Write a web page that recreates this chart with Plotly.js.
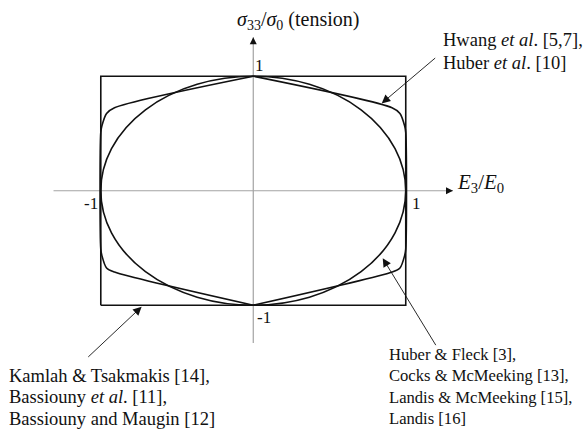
<!DOCTYPE html>
<html>
<head>
<meta charset="utf-8">
<script src="https://cdn.plot.ly/plotly-3.0.1.min.js"></script>
<style>
  html, body { margin: 0; padding: 0; background: #fff; }
  #plot { width: 584px; height: 434px; }
</style>
</head>
<body>
<div id="plot"></div>
<script>
// Switching surface in normalised (E3/E0, sigma33/sigma0) space.

// Square surface: Kamlah & Tsakmakis, Bassiouny et al., Bassiouny and Maugin
const boxX = [-1, 1, 1, -1, -1];
const boxY = [-1, -1, 1, 1, -1];

// Elliptical surface: Huber & Fleck, Cocks & McMeeking, Landis & McMeeking, Landis
const ellipseX = [-1, 1];
const ellipseY = [-1, 1];

// Faceted surface with rounded corners: Hwang et al., Huber et al.
const hwangRightX = [0, 0.91, 0.962, 0.993, 1, 1, 0.993, 0.962, 0.91, 0];
const hwangRightY = [1, 0.725, 0.675, 0.565, 0.51, -0.51, -0.565, -0.675, -0.71, -1];
const hwangLeftX = [0, -0.91, -0.962, -0.993, -1, -1, -0.993, -0.962, -0.91, 0];
const hwangLeftY = [1, 0.725, 0.675, 0.565, 0.51, -0.51, -0.565, -0.675, -0.71, -1];

// Coordinate axes
const axisHX = [-1.31, 1.31];
const axisHY = [0, 0];
const axisVX = [0, 0];
const axisVY = [-1.33, 1.34];

// Axis tick labels
const tickLabels = ['1', '-1', '1', '-1'];

// Reference lists for each surface
const hwangRefs = ['Hwang <i>et al</i>. [5,7],', 'Huber <i>et al</i>. [10]'];
const squareRefs = ['Kamlah &amp; Tsakmakis [14],', 'Bassiouny <i>et al</i>. [11],', 'Bassiouny and Maugin [12]'];
const ellipseRefs = ['Huber &amp; Fleck [3],', 'Cocks &amp; McMeeking [13],', 'Landis &amp; McMeeking [15],', 'Landis [16]'];

const serif = '"Liberation Serif", "Times New Roman", Times, "DejaVu Serif", serif';
const gray = '#a3a3a3';
const ink = '#111';

const traces = [
  { x: axisHX, y: axisHY, mode: 'lines', line: { color: gray, width: 1.2 }, hoverinfo: 'skip' },
  { x: axisVX, y: axisVY, mode: 'lines', line: { color: gray, width: 1.2 }, hoverinfo: 'skip' },
  { x: boxX, y: boxY, mode: 'lines', line: { color: ink, width: 1.6 }, hoverinfo: 'skip' },
  { x: hwangRightX, y: hwangRightY, mode: 'lines', line: { color: ink, width: 1.6, shape: 'spline', smoothing: 0.8 }, hoverinfo: 'skip' },
  { x: hwangLeftX, y: hwangLeftY, mode: 'lines', line: { color: ink, width: 1.6, shape: 'spline', smoothing: 0.8 }, hoverinfo: 'skip' }
];

const shapes = [
  { type: 'circle', xref: 'x', yref: 'y',
    x0: ellipseX[0], x1: ellipseX[1], y0: ellipseY[0], y1: ellipseY[1],
    line: { color: ink, width: 1.6 } }
];

function label(text, x, y, xanchor, size) {
  return { text: text, x: x, y: y, xref: 'x', yref: 'y', xanchor: xanchor, yanchor: 'middle',
           showarrow: false, align: 'left', font: { family: serif, size: size || 17, color: ink } };
}
function pointer(hx, hy, tx, ty) {
  return { text: '', x: hx, y: hy, ax: tx, ay: ty, xref: 'x', yref: 'y', axref: 'x', ayref: 'y',
           showarrow: true, arrowhead: 2, arrowsize: 1.9, arrowwidth: 0.9, arrowcolor: ink };
}
// stacked lines of a reference list
function block(lines, x, yTop, step, size) {
  return lines.map((t, i) => label(t, x, yTop - i * step, 'left', size));
}

const annotations = [
  // axis arrowheads
  { text: '', x: axisVX[1], y: axisVY[1], ax: 0, ay: axisVY[1] - 0.06, xref: 'x', yref: 'y', axref: 'x', ayref: 'y',
    showarrow: true, arrowhead: 2, arrowsize: 1.4, arrowwidth: 1, arrowcolor: ink },
  { text: '', x: axisHX[1], y: 0, ax: axisHX[1] - 0.04, ay: 0, xref: 'x', yref: 'y', axref: 'x', ayref: 'y',
    showarrow: true, arrowhead: 2, arrowsize: 1.4, arrowwidth: 1, arrowcolor: ink },
  // axis titles
  label('<i>σ</i><sub>33</sub>/<i>σ</i><sub>0</sub> (tension)', -0.12, 1.49, 'left', 20),
  label('<i>E</i><sub>3</sub>/<i>E</i><sub>0</sub>', 1.32, 0.07, 'left', 21),
  // tick labels
  label(tickLabels[0], -0.005, 1.09, 'left'),
  label(tickLabels[1], -1.005, -0.115, 'right'),
  label(tickLabels[2], 1.025, -0.115, 'left'),
  label(tickLabels[3], 0.01, -1.11, 'left'),
  // pointers
  pointer(0.842, 0.763, 1.203, 1.17),
  pointer(-0.732, -1.013, -1.092, -1.464),
  pointer(0.849, -0.59, 1.203, -1.362)
].concat(
  block(hwangRefs, 1.23, 1.321, 0.204, 18.5),
  block(squareRefs, -1.615, -1.62, 0.186, 18.5),
  block(ellipseRefs, 0.88, -1.429, 0.188, 16.6)
);

const layout = {
  width: 584, height: 434,
  margin: { l: 0, r: 0, t: 0, b: 0 },
  paper_bgcolor: '#fff', plot_bgcolor: '#fff',
  showlegend: false,
  xaxis: { range: [-1.661, 2.169], visible: false, fixedrange: true },
  yaxis: { range: [-2.125, 1.666], visible: false, fixedrange: true },
  shapes: shapes,
  annotations: annotations
};

Plotly.newPlot('plot', traces, layout, { staticPlot: true, displayModeBar: false });
</script>
</body>
</html>
